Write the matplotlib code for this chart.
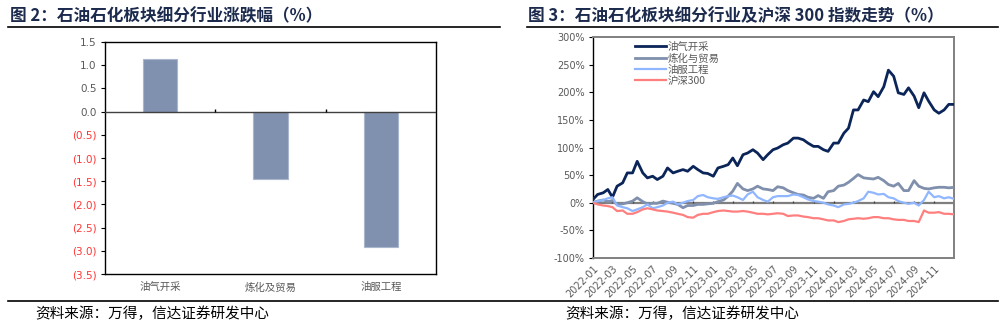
import numpy as np
import pandas as pd
import matplotlib
matplotlib.use('Agg')
import matplotlib.pyplot as plt
import matplotlib.dates as mdates
from matplotlib.lines import Line2D

plt.rcParams['font.family'] = ['Noto Sans CJK SC', 'DejaVu Sans']

# 图2 data
industries = ['油气开采', '炼化及贸易', '油服工程']
change_pct = [1.13, -1.45, -2.92]
bar_ticks = [1.5, 1.0, 0.5, 0.0, -0.5, -1.0, -1.5, -2.0, -2.5, -3.0, -3.5]

# 图3 data: semi-monthly readings, 2022-01-01 .. 2025-01-01 (%)
dates = pd.date_range('2022-01-01', periods=73, freq='SMS')
oil_gas = [6, 15, 18, 24, 10, 30, 36, 54, 54, 75, 54, 45, 48, 42, 48, 63, 54, 57, 60, 57,
           66, 60, 54, 53, 48, 63, 66, 69, 81, 67, 87, 90, 96, 90, 78, 87, 96, 99, 105, 108,
           117, 117, 114, 108, 102, 102, 96, 93, 108, 108, 126, 135, 168, 168, 186, 183, 201, 192, 210, 240,
           229, 199, 196, 208, 193, 172, 199, 184, 168, 162, 168, 178, 178]
refining = [0, 3, 5, 2, 4, -3, -2, 0, 3, 9, 2, -2, -1, -1, 3, 1, -1, -3, -9, -5,
            -5, -3, -3, -2, -1, 2, 5, 12, 21, 35, 25, 22, 25, 30, 25, 24, 22, 29, 27, 22,
            18, 15, 14, 10, 8, 13, 8, 20, 22, 30, 32, 37, 44, 51, 45, 44, 43, 46, 40, 33,
            30, 35, 22, 22, 40, 30, 26, 25, 27, 28, 28, 27, 28]
oil_service = [0, 3, 5, 8, 10, -5, -8, -10, -15, -12, -8, -3, -10, -8, -5, 0, 2, -3, 0, 3,
               5, 12, 14, 10, 8, 7, 10, 12, 13, 10, 5, 15, 20, 10, 5, 2, 10, 12, 12, 12,
               15, 14, 10, 6, 3, 2, 0, -3, -5, -8, -3, -2, 0, 3, 8, 20, 18, 15, 16, 10,
               8, 3, 0, -2, 0, -5, 5, 20, 10, 12, 8, 10, 7]
hs300 = [0, -3, -5, -6, -8, -15, -14, -20, -20, -17, -12, -10, -12, -14, -15, -16, -18, -20, -22, -26,
         -27, -22, -20, -20, -17, -15, -14, -15, -16, -16, -15, -16, -18, -20, -20, -21, -20, -19, -20, -24,
         -23, -23, -25, -26, -28, -28, -30, -32, -32, -35, -33, -30, -29, -28, -29, -28, -26, -26, -28, -28,
         -30, -31, -31, -33, -33, -35, -14, -18, -18, -17, -20, -20, -21]
series = [('油气开采', oil_gas, '#0b2559', 2.0),
          ('炼化与贸易', refining, '#7f8fac', 2.0),
          ('油服工程', oil_service, '#8fb6ff', 1.6),
          ('沪深300', hs300, '#ff7f7f', 1.6)]

gray = '#595959'
fig = plt.figure(figsize=(10.05, 3.32), dpi=100)

# headers and footers
fig.text(10 / 1005, 1 - 16 / 332, '图 2：石油石化板块细分行业涨跌幅（%）', fontsize=12,
         fontweight='bold', color='#1c2b4d', va='center')
fig.text(528 / 1005, 1 - 16 / 332, '图 3：石油石化板块细分行业及沪深 300 指数走势（%）', fontsize=12,
         fontweight='bold', color='#1c2b4d', va='center')
fig.add_artist(Line2D([8 / 1005, 500 / 1005], [1 - 27 / 332] * 2, color='black', lw=1.2))
fig.add_artist(Line2D([527 / 1005, 998 / 1005], [1 - 27 / 332] * 2, color='black', lw=1.2))
fig.add_artist(Line2D([8 / 1005, 998 / 1005], [1 - 301 / 332] * 2, color='black', lw=1.2))
fig.text(35 / 1005, 1 - 314 / 332, '资料来源：万得，信达证券研发中心', fontsize=10.5, color='black', va='center')
fig.text(565 / 1005, 1 - 314 / 332, '资料来源：万得，信达证券研发中心', fontsize=10.5, color='black', va='center')

# 图2 bars
ax1 = fig.add_axes([105 / 1005, 58 / 332, 331 / 1005, 232 / 332])
x = np.arange(len(industries))
ax1.bar(x, change_pct, width=0.31, color='#8091b0', edgecolor='#a9b6cc', linewidth=0.8, zorder=2)
ax1.axhline(0, color='#404040', lw=1.0, zorder=3)
ax1.vlines([0.5, 1.5], 0, 0.05, color='black', lw=1.0, zorder=3)
ax1.set_xlim(-0.5, 2.5)
ax1.set_ylim(-3.5, 1.5)
ax1.set_yticks(bar_ticks)
ax1.set_yticklabels(['%.1f' % v if v >= 0 else '(%.1f)' % -v for v in bar_ticks], fontsize=7.5,
                    family=['DejaVu Sans'])
for lab, v in zip(ax1.get_yticklabels(), bar_ticks):
    lab.set_color(gray if v >= 0 else '#ff3333')
ax1.set_xticks(x)
ax1.set_xticklabels(industries, fontsize=7.5, color=gray)
ax1.tick_params(axis='x', length=0, pad=6)
ax1.tick_params(axis='y', length=3, width=0.8, direction='out', pad=3)
for s in ax1.spines.values():
    s.set_color('black')
    s.set_linewidth(1.0)

# 图3 lines
ax2 = fig.add_axes([593 / 1005, 74 / 332, 361 / 1005, 221 / 332])
for name, vals, col, lw in series:
    ax2.plot(dates, vals, color=col, lw=lw, label=name, zorder=3)
ax2.axhline(0, color='#7f7f7f', lw=1.6, zorder=2)
xt = pd.date_range('2022-01-01', '2024-11-01', freq='2MS')
ax2.vlines(xt, 0, 4, color='#404040', lw=0.9, zorder=2)
ax2.set_xlim(pd.Timestamp('2022-01-01'), pd.Timestamp('2024-12-31'))
ax2.set_ylim(-100, 300)
ax2.set_yticks(range(-100, 301, 50))
ax2.set_yticklabels(['%d%%' % v for v in range(-100, 301, 50)], fontsize=7, color=gray,
                    family=['DejaVu Sans'])
ax2.set_xticks(xt)
ax2.xaxis.set_major_formatter(mdates.DateFormatter('%Y-%m'))
plt.setp(ax2.get_xticklabels(), rotation=45, ha='right', rotation_mode='anchor', fontsize=7,
         color=gray, family=['DejaVu Sans'])
ax2.tick_params(axis='x', length=0, pad=4)
ax2.tick_params(axis='y', length=3, width=0.8, pad=3)
for s in ax2.spines.values():
    s.set_color('#808080')
    s.set_linewidth(1.4)
ax2.spines['left'].set_color('black')
ax2.spines['left'].set_linewidth(1.0)
ax2.legend(loc='upper left', bbox_to_anchor=(0.09, 1.02), frameon=False, fontsize=7.5,
           handlelength=3.0, handletextpad=0.1, labelspacing=0.12, labelcolor=gray)

fig.savefig('out.png', dpi=100)
